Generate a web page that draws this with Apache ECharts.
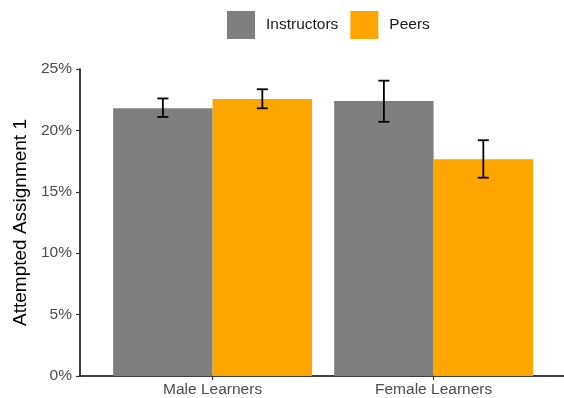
<!DOCTYPE html>
<html>
<head>
<meta charset="utf-8">
<script src="https://cdn.jsdelivr.net/npm/echarts@6/dist/echarts.min.js"></script>
<style>
  html, body { margin: 0; padding: 0; background: #ffffff; }
  #chart { width: 564px; height: 398px; }
</style>
</head>
<body>
<div id="chart"></div>
<script>
// Learner groups on the x axis and the two feedback sources
const categories = ['Male Learners', 'Female Learners'];
const groups = ['Instructors', 'Peers'];

// Share of learners who attempted assignment 1 (%), with interval bounds
const instructorsMean = [21.8, 22.4];
const instructorsLow = [21.1, 20.7];
const instructorsHigh = [22.6, 24.05];

const peersMean = [22.55, 17.65];
const peersLow = [21.8, 16.15];
const peersHigh = [23.35, 19.2];

const yTicks = [0, 5, 10, 15, 20, 25];

const colors = ['#7f7f7f', '#ffa500'];
const dodge = 0.45;      // bar width in category units
const capHalf = 0.025;   // error-bar cap half width in category units

function barSeries(name, means, idx, color) {
  const offset = (idx === 0 ? -0.5 : 0.5) * dodge;
  return {
    name: name,
    type: 'custom',
    itemStyle: { color: color },
    data: means.map((v, i) => [i + 1, v]),
    encode: { x: 0, y: 1 },
    renderItem: function (params, api) {
      const x = api.value(0) + offset;
      const p0 = api.coord([x - dodge / 2, api.value(1)]);
      const p1 = api.coord([x + dodge / 2, 0]);
      return {
        type: 'rect',
        shape: { x: p0[0], y: p0[1], width: p1[0] - p0[0], height: p1[1] - p0[1] },
        style: { fill: color }
      };
    },
    z: 2
  };
}

function errorSeries(name, lows, highs, idx) {
  const offset = (idx === 0 ? -0.5 : 0.5) * dodge;
  return {
    name: name + ' range',
    type: 'custom',
    data: lows.map((v, i) => [i + 1, v, highs[i]]),
    encode: { x: 0, y: [1, 2] },
    renderItem: function (params, api) {
      const x = api.value(0) + offset;
      const lo = api.value(1), hi = api.value(2);
      const top = api.coord([x, hi]);
      const bot = api.coord([x, lo]);
      const tl = api.coord([x - capHalf, hi]);
      const tr = api.coord([x + capHalf, hi]);
      const bl = api.coord([x - capHalf, lo]);
      const br = api.coord([x + capHalf, lo]);
      const st = { stroke: '#000000', lineWidth: 1.8 };
      return {
        type: 'group',
        children: [
          { type: 'line', shape: { x1: top[0], y1: top[1], x2: bot[0], y2: bot[1] }, style: st },
          { type: 'line', shape: { x1: tl[0], y1: tl[1], x2: tr[0], y2: tr[1] }, style: st },
          { type: 'line', shape: { x1: bl[0], y1: bl[1], x2: br[0], y2: br[1] }, style: st }
        ]
      };
    },
    z: 3
  };
}

const chart = echarts.init(document.getElementById('chart'), null, { renderer: 'canvas' });

chart.setOption({
  animation: false,
  backgroundColor: '#ffffff',
  legend: {
    data: groups.map((g, i) => ({ name: g, itemStyle: { color: colors[i] } })),
    top: 6,
    left: 222,
    icon: 'rect',
    itemWidth: 28,
    itemHeight: 28,
    itemGap: 12,
    textStyle: {
      fontFamily: 'Liberation Sans, Arial, sans-serif',
      fontSize: 15.5,
      color: '#1a1a1a',
      padding: [0, 0, 0, 6]
    }
  },
  grid: { left: 80, right: 0, top: 69, bottom: 22 },
  xAxis: {
    type: 'value',
    min: 0.4,
    max: 2.59,
    splitLine: { show: false },
    axisLine: { show: true, lineStyle: { color: '#000000', width: 1.5 } },
    axisTick: {
      show: true,
      customValues: [1, 2],
      length: 4,
      lineStyle: { color: '#333333', width: 1.2 }
    },
    axisLabel: {
      customValues: [1, 2],
      formatter: v => categories[Math.round(v) - 1],
      margin: 6,
      fontFamily: 'Liberation Sans, Arial, sans-serif',
      fontSize: 15.5,
      color: '#4d4d4d'
    }
  },
  yAxis: {
    type: 'value',
    min: yTicks[0],
    max: yTicks[yTicks.length - 1],
    interval: 5,
    name: 'Attempted Assignment 1',
    nameLocation: 'middle',
    nameGap: 48,
    nameTextStyle: {
      fontFamily: 'Liberation Sans, Arial, sans-serif',
      fontSize: 19,
      color: '#000000'
    },
    splitLine: { show: false },
    axisLine: { show: true, lineStyle: { color: '#000000', width: 1.5 } },
    axisTick: { show: true, length: 4, lineStyle: { color: '#333333', width: 1.2 } },
    axisLabel: {
      formatter: '{value}%',
      margin: 8,
      fontFamily: 'Liberation Sans, Arial, sans-serif',
      fontSize: 15.5,
      color: '#4d4d4d'
    }
  },
  series: [
    barSeries(groups[0], instructorsMean, 0, colors[0]),
    barSeries(groups[1], peersMean, 1, colors[1]),
    errorSeries(groups[0], instructorsLow, instructorsHigh, 0),
    errorSeries(groups[1], peersLow, peersHigh, 1)
  ]
});
</script>
</body>
</html>
